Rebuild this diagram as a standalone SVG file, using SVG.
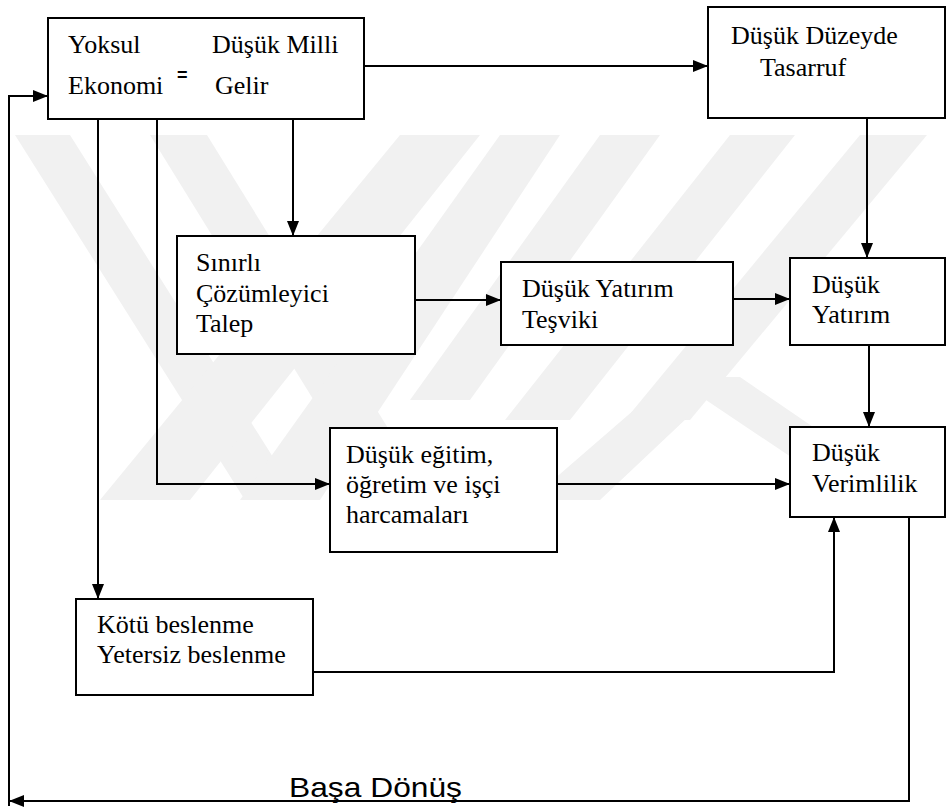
<svg xmlns="http://www.w3.org/2000/svg" width="947" height="810" viewBox="0 0 947 810">
<style>
.box{fill:#fff;stroke:#000;stroke-width:2}
.t{font-family:"Liberation Serif","Times New Roman",serif;font-size:26px;fill:#000}
.c{fill:none;stroke:#000;stroke-width:2}
.wm{fill:#f1f1f1}
</style>
<defs>
<marker id="ah" markerUnits="userSpaceOnUse" markerWidth="15" markerHeight="12" refX="15" refY="6" orient="auto">
<path d="M0,0 L15,6 L0,12 z" fill="#000"/>
</marker>
</defs>
<rect width="947" height="810" fill="#fff"/>
<g id="watermark">
<polygon class="wm" points="15,135 70,135 300,500 245,500"/>
<polygon class="wm" points="150,135 207,135 420,480 363,480"/>
<polygon class="wm" points="400,135 480,135 190,500 100,500"/>
<polygon class="wm" points="500,135 560,135 320,500 240,500"/>
<polygon class="wm" points="600,135 660,135 470,400 410,400"/>
<polygon class="wm" points="730,135 795,135 570,420 505,420"/>
<polygon class="wm" points="860,135 927,135 690,420 625,420"/>
<polygon class="wm" points="672,377 740,377 920,500 855,500 706,400 600,500 530,500"/>
</g>
<g id="connectors">
<path class="c" d="M364,66 H708" marker-end="url(#ah)"/>
<path class="c" d="M9,806 V96 H48" marker-end="url(#ah)"/>
<path class="c" d="M98,119 V599" marker-end="url(#ah)"/>
<path class="c" d="M157,119 V484 H330" marker-end="url(#ah)"/>
<path class="c" d="M293,119 V236" marker-end="url(#ah)"/>
<path class="c" d="M867,118 V258" marker-end="url(#ah)"/>
<path class="c" d="M415,300 H501" marker-end="url(#ah)"/>
<path class="c" d="M733,299 H790" marker-end="url(#ah)"/>
<path class="c" d="M869,345 V427" marker-end="url(#ah)"/>
<path class="c" d="M557,484 H790" marker-end="url(#ah)"/>
<path class="c" d="M313,672 H834 V517" marker-end="url(#ah)"/>
<path class="c" d="M909,517 V801 H9" marker-end="url(#ah)"/>
<text x="289" y="797" style="font-family:'Liberation Sans',Arial,sans-serif;font-size:28px" textLength="173" lengthAdjust="spacingAndGlyphs">Başa Dönüş</text>
</g>
<g id="n-yoksul">
<rect class="box" x="48" y="18" width="316" height="101"/>
<text class="t" x="68" y="53">Yoksul</text>
<text class="t" x="212" y="53">Düşük Milli</text>
<text class="t" x="68" y="94">Ekonomi</text>
<text x="177" y="81" style="font-family:'Liberation Sans',Arial,sans-serif;font-size:18px;font-weight:bold">=</text>
<text class="t" x="215" y="94">Gelir</text>
</g>
<g id="n-tasarruf">
<rect class="box" x="708" y="7" width="237" height="111"/>
<text class="t" x="731" y="44">Düşük Düzeyde</text>
<text class="t" x="760" y="76">Tasarruf</text>
</g>
<g id="n-sinirli">
<rect class="box" x="177" y="236" width="238" height="118"/>
<text class="t" x="196" y="271">Sınırlı</text>
<text class="t" x="196" y="302">Çözümleyici</text>
<text class="t" x="196" y="332">Talep</text>
</g>
<g id="n-tesvik">
<rect class="box" x="501" y="262" width="232" height="83"/>
<text class="t" x="522" y="297">Düşük Yatırım</text>
<text class="t" x="522" y="328">Teşviki</text>
</g>
<g id="n-yatirim">
<rect class="box" x="790" y="258" width="155" height="87"/>
<text class="t" x="812" y="293">Düşük</text>
<text class="t" x="812" y="323">Yatırım</text>
</g>
<g id="n-egitim">
<rect class="box" x="330" y="428" width="227" height="124"/>
<text class="t" x="346" y="463">Düşük eğitim,</text>
<text class="t" x="346" y="493">öğretim ve işçi</text>
<text class="t" x="346" y="523">harcamaları</text>
</g>
<g id="n-verimlilik">
<rect class="box" x="790" y="427" width="155" height="90"/>
<text class="t" x="812" y="461">Düşük</text>
<text class="t" x="812" y="492">Verimlilik</text>
</g>
<g id="n-beslenme">
<rect class="box" x="76" y="599" width="237" height="96"/>
<text class="t" x="97" y="633">Kötü beslenme</text>
<text class="t" x="97" y="663">Yetersiz beslenme</text>
</g>
</svg>
